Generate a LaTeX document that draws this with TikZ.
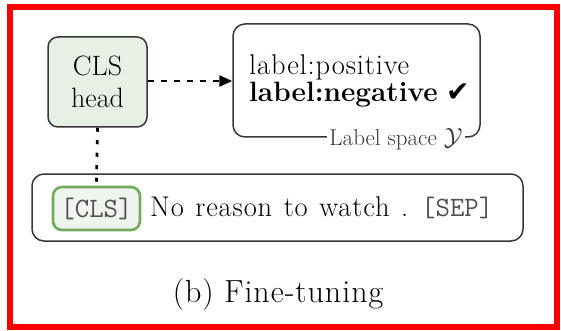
\documentclass[tikz,border=0pt]{standalone}
\usepackage{fontspec}
\newfontfamily\symfont{DejaVu Sans}
\newfontfamily\widerm{Latin Modern Roman}[LetterSpace=3]
\usetikzlibrary{arrows.meta}

\definecolor{frame}{RGB}{250,0,0}
\definecolor{boxline}{RGB}{55,55,55}
\definecolor{headfill}{RGB}{232,240,229}
\definecolor{tokline}{RGB}{112,172,92}
\definecolor{tokfill}{RGB}{240,244,238}
\definecolor{tokgray}{RGB}{80,80,80}

\tikzset{
  panel/.style={draw=boxline, line width=1.5pt, inner sep=0pt},
  headbox/.style={panel, fill=headfill, rounded corners=10pt, align=center,
    font=\fontsize{28}{32}\selectfont},
  tokbox/.style={draw=tokline, line width=2.6pt, fill=tokfill, rounded corners=9pt,
    inner sep=0pt, text=tokgray, font=\fontsize{28}{30}\ttfamily},
  body/.style={inner sep=0pt, font=\widerm\fontsize{28.5}{30}\selectfont},
  link/.style={line width=2.8pt, black},
}

\begin{document}
\begin{tikzpicture}[x=1pt,y=-1pt]
  \useasboundingbox (0,0) rectangle (561,331);

  % outer frame
  \draw[frame, line width=6pt] (10,7) rectangle (557,327);

  % classification head
  \node[headbox, minimum width=99pt, minimum height=90pt] (head) at (97.5,82) {CLS\\head};

  % label space box and its entries
  \node[panel, rounded corners=12pt, minimum width=247pt, minimum height=113pt] (labels) at (356.5,80.5) {};
  \node[body, anchor=base west] (pos) at (249,75) {label:positive};
  \node[inner sep=0pt, font=\fontsize{28}{30}\selectfont, anchor=base west] (neg) at (249,102)
        {\textbf{label:negative} {\symfont ✔}};
  \node[fill=white, inner xsep=2pt, inner ysep=1pt, text=boxline,
        font=\fontsize{23}{25}\selectfont] (space) at (396,139) {Label space $\mathcal{Y}$};

  % input sequence
  \node[panel, rounded corners=12pt, minimum width=491pt, minimum height=67pt] (input) at (277.5,207.5) {};
  \node[tokbox, minimum width=87pt, minimum height=43pt] (cls) at (96.5,208.5) {[CLS]};
  \node[body, anchor=base west] (sent) at (150,216) {\spaceskip=11.5pt No reason to watch .};
  \node[anchor=base west, inner sep=0pt, text=tokgray, font=\fontsize{28}{30}\ttfamily] (sep) at (421,216) {[SEP]};

  % connectors
  \draw[link, dash pattern=on 6pt off 7pt, -{Triangle[length=13pt,width=11pt]}]
        (head.east |- 0,81) -- (labels.west |- 0,81);
  \draw[link, dash pattern=on 4pt off 8.5pt] (head.south) -- (cls.north);

  % caption
  \node[anchor=base, inner sep=0pt, font=\widerm\fontsize{32}{34}\selectfont] (caption) at (278,302) {(b) Fine-tuning};
\end{tikzpicture}
\end{document}
